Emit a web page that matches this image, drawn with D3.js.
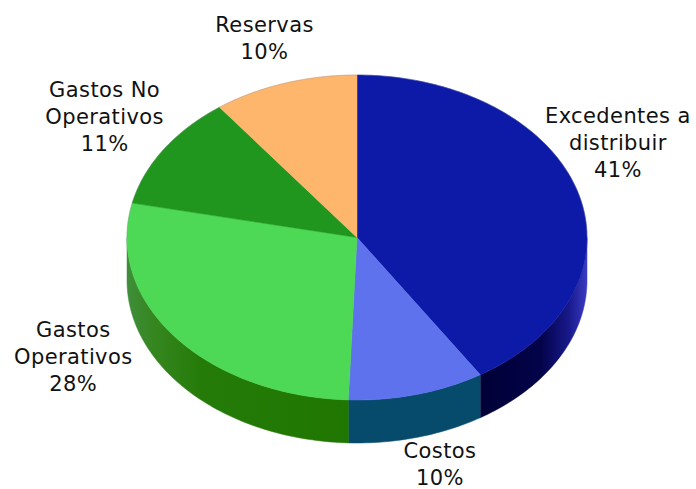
<!DOCTYPE html>
<html>
<head>
<meta charset="utf-8">
<script src="https://cdn.jsdelivr.net/npm/d3@7"></script>
<style>
  body { margin: 0; background: #fff; }
  .lbl { font-family: "DejaVu Sans", sans-serif; font-size: 21px; letter-spacing: 0.4px; fill: #111; }
</style>
</head>
<body>
<div class="chart"></div>
<script>
var svgWidth = 696;
var svgHeight = 489;

// data
var categories = ["Excedentes a distribuir", "Costos", "Gastos Operativos", "Gastos No Operativos", "Reservas"];
var labelLines = [["Excedentes a", "distribuir"], ["Costos"], ["Gastos", "Operativos"], ["Gastos No", "Operativos"], ["Reservas"]];
var values = [41.0, 9.6, 27.8, 11.4, 10.2];
var pctLabels = ["41%", "10%", "28%", "11%", "10%"];

// styles
var topColors = ["#0d1aa8", "#5f72ee", "#4dd855", "#20961f", "#feb56c"];
var sideColors = ["#000038", "#064a6c", "#217800", "#176d16", "#c98a4c"];
// label nudges from the slice's outer edge at mid angle
var labelNudge = [[40, -49], [23, 27], [-102, -23], [-59, -33], [-20, -45]];

var cx = 357, cy = 237.5, rx = 230, ry = 162.5, depth = 43;
var lineH = 27;

var svg = d3.select(".chart")
  .append("svg")
  .attr("width", svgWidth)
  .attr("height", svgHeight);

var defs = svg.append("defs");

// side gradients
var g0 = defs.append("linearGradient").attr("id", "side0")
  .attr("gradientUnits", "userSpaceOnUse")
  .attr("x1", cx - rx).attr("x2", cx + rx).attr("y1", 0).attr("y2", 0);
[[0, "#000033"], [0.78, "#000038"], [0.9, "#03034a"], [0.96, "#18188a"], [1, "#3a3ac4"]].forEach(function(s) {
  g0.append("stop").attr("offset", s[0]).attr("stop-color", s[1]);
});
var g2 = defs.append("linearGradient").attr("id", "side2")
  .attr("gradientUnits", "userSpaceOnUse")
  .attr("x1", cx - rx).attr("x2", cx + rx).attr("y1", 0).attr("y2", 0);
[[0, "#3f8e3a"], [0.06, "#35861f"], [0.16, "#257b08"], [0.5, "#1f7600"], [1, "#1f7600"]].forEach(function(s) {
  g2.append("stop").attr("offset", s[0]).attr("stop-color", s[1]);
});
var sideFill = ["url(#side0)", sideColors[1], "url(#side2)", sideColors[3], sideColors[4]];

var pie = d3.pie().sort(null).value(function(d) { return d; });
var arcs = pie(values);

function px(a) { return cx + rx * Math.sin(a); }
function py(a) { return cy - ry * Math.cos(a); }

function ellArc(a0, a1, dy) {
  // points along the ellipse from a0 to a1
  var n = Math.max(2, Math.ceil(Math.abs(a1 - a0) / 0.02));
  var pts = [];
  for (var i = 0; i <= n; i++) {
    var a = a0 + (a1 - a0) * i / n;
    pts.push([px(a), py(a) + (dy || 0)]);
  }
  return pts;
}

var line = d3.line();

// side walls (only front half is visible)
var sides = svg.append("g");
arcs.forEach(function(d, i) {
  var a0 = Math.max(d.startAngle, Math.PI / 2);
  var a1 = Math.min(d.endAngle, Math.PI * 3 / 2);
  if (a1 <= a0) return;
  var pts = ellArc(a0, a1, 0).concat(ellArc(a1, a0, depth));
  sides.append("path")
    .attr("d", line(pts) + "Z")
    .attr("fill", sideFill[i])
    .attr("stroke", sideFill[i])
    .attr("stroke-width", 0.5);
});

// top faces
var tops = svg.append("g");
arcs.forEach(function(d, i) {
  var pts = [[cx, cy]].concat(ellArc(d.startAngle, d.endAngle, 0));
  tops.append("path")
    .attr("d", line(pts) + "Z")
    .attr("fill", topColors[i])
    .attr("stroke", topColors[i])
    .attr("stroke-width", 0.5);
});

// faint rim on the back edge
svg.append("path")
  .attr("d", line(ellArc(-Math.PI / 2, Math.PI / 2, 0)))
  .attr("fill", "none")
  .attr("stroke", "rgba(120,120,140,0.35)")
  .attr("stroke-width", 0.8);

// labels
var labels = svg.append("g");
arcs.forEach(function(d, i) {
  var mid = (d.startAngle + d.endAngle) / 2;
  var front = Math.cos(mid) < 0 ? depth : 0;
  var x = px(mid) + labelNudge[i][0];
  var y = py(mid) + front + labelNudge[i][1];
  var lines = labelLines[i].concat([pctLabels[i]]);
  var first = y - (lines.length - 1) * lineH / 2 + 7;
  var t = labels.append("text")
    .attr("class", "lbl")
    .attr("text-anchor", "middle");
  lines.forEach(function(s, j) {
    t.append("tspan")
      .attr("x", x)
      .attr("y", first + j * lineH)
      .text(s);
  });
});
</script>
</body>
</html>
